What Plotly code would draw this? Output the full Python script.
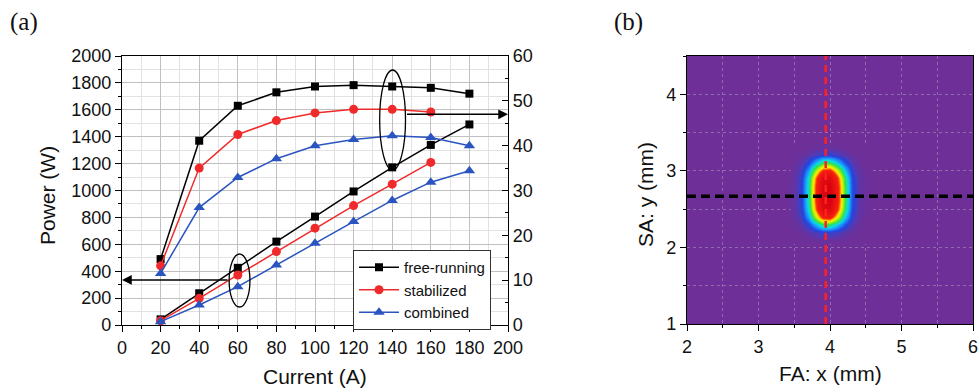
import plotly.graph_objects as go

# ---------------- data: panel (a) ----------------
current = [20, 40, 60, 80, 100, 120, 140, 160, 180]
current_stab = [20, 40, 60, 80, 100, 120, 140, 160]
power_free = [42, 236, 425, 620, 806, 993, 1172, 1339, 1491]
power_stab = [32, 198, 372, 546, 720, 888, 1047, 1209]
power_comb = [25, 149, 285, 447, 608, 769, 926, 1062, 1147]
eff_free = [14.7, 41.1, 48.9, 51.9, 53.2, 53.5, 53.2, 52.9, 51.6]
eff_stab = [13.2, 35.0, 42.5, 45.6, 47.3, 48.1, 48.1, 47.5]
eff_comb = [11.5, 26.2, 32.9, 37.1, 40.0, 41.4, 42.2, 41.8, 40.0]
series_names = ["free-running", "stabilized", "combined"]

# ---------------- data: panel (b) beam profile (estimated relative intensities) ----------------
fa_x = [3.5, 3.6, 3.7, 3.8, 3.9, 4.0, 4.1, 4.2, 4.3, 4.4, 4.5]
sa_y = [2.1, 2.2, 2.3, 2.4, 2.5, 2.6, 2.7, 2.8, 2.9, 3.0, 3.1, 3.2, 3.3]
intensity = [
    [0, 0, 0.001, 0.003, 0.005, 0.005, 0.003, 0.001, 0, 0, 0],
    [0.001, 0.004, 0.014, 0.035, 0.056, 0.058, 0.040, 0.018, 0.005, 0.001, 0],
    [0.003, 0.019, 0.071, 0.174, 0.278, 0.290, 0.198, 0.088, 0.026, 0.005, 0.001],
    [0.007, 0.042, 0.156, 0.383, 0.611, 0.638, 0.435, 0.193, 0.056, 0.011, 0.001],
    [0.010, 0.058, 0.218, 0.534, 0.852, 0.889, 0.606, 0.270, 0.078, 0.015, 0.002],
    [0.011, 0.063, 0.236, 0.577, 0.921, 0.961, 0.656, 0.292, 0.085, 0.016, 0.002],
    [0.011, 0.063, 0.237, 0.580, 0.926, 0.966, 0.659, 0.293, 0.085, 0.016, 0.002],
    [0.011, 0.063, 0.236, 0.577, 0.921, 0.961, 0.656, 0.292, 0.085, 0.016, 0.002],
    [0.010, 0.058, 0.218, 0.534, 0.852, 0.889, 0.606, 0.270, 0.078, 0.015, 0.002],
    [0.007, 0.042, 0.156, 0.383, 0.611, 0.638, 0.435, 0.193, 0.056, 0.011, 0.001],
    [0.003, 0.019, 0.071, 0.174, 0.278, 0.290, 0.198, 0.088, 0.026, 0.005, 0.001],
    [0.001, 0.004, 0.014, 0.035, 0.056, 0.058, 0.040, 0.018, 0.005, 0.001, 0],
    [0, 0, 0.001, 0.003, 0.005, 0.005, 0.003, 0.001, 0, 0, 0],
]
cross_x = 3.94
cross_y = 2.67

BLACK = "#000000"
RED = "#f02a2a"
BLUE = "#2a55c0"
PURPLE = "#6f2f98"
FONT = "Liberation Sans, Arial, sans-serif"
SERIF = "Liberation Serif, Times New Roman, serif"

W, H = 979, 391


def fx(p):
    return p / W


def fy(p):
    return 1 - p / H


fig = go.Figure()

styles = [
    (BLACK, "square", 8),
    (RED, "circle", 9),
    (BLUE, "triangle-up", 10),
]
powers = [(current, power_free), (current_stab, power_stab), (current, power_comb)]
effs = [(current, eff_free), (current_stab, eff_stab), (current, eff_comb)]

for (c, sym, sz), (xs, ys), name in zip(styles, powers, series_names):
    fig.add_trace(go.Scatter(x=xs, y=ys, name=name, mode="lines+markers",
                             line=dict(color=c, width=1.5),
                             marker=dict(symbol=sym, size=sz, color=c),
                             xaxis="x", yaxis="y"))
for (c, sym, sz), (xs, ys), name in zip(styles, effs, series_names):
    fig.add_trace(go.Scatter(x=xs, y=ys, name=name, mode="lines+markers",
                             showlegend=False,
                             line=dict(color=c, width=1.5),
                             marker=dict(symbol=sym, size=sz, color=c),
                             xaxis="x", yaxis="y2"))

colorscale = [
    [0.0, PURPLE],
    [0.03, "#4f3cb8"],
    [0.07, "#2243e0"],
    [0.13, "#1e8cf8"],
    [0.20, "#08dcec"],
    [0.28, "#30e048"],
    [0.38, "#b8f010"],
    [0.46, "#fff000"],
    [0.52, "#ff7a00"],
    [0.58, "#f82010"],
    [1.0, "#d40010"],
]
fig.add_trace(go.Heatmap(x=fa_x, y=sa_y, z=intensity, zmin=0, zmax=1,
                         colorscale=colorscale, zsmooth="best", showscale=False,
                         xaxis="x2", yaxis="y3", hoverinfo="skip"))

Y_DOM = [fy(325), fy(56)]
tickfont = dict(family=FONT, size=18, color="#111")
GRID_B = "rgba(215,215,215,0.35)"

fig.update_layout(
    width=W, height=H,
    margin=dict(l=0, r=0, t=0, b=0, autoexpand=False),
    paper_bgcolor="white", plot_bgcolor="white",
    font=dict(family=FONT, color="#111"),
    showlegend=True,
    legend=dict(x=fx(353), y=fy(250), xanchor="left", yanchor="top",
                bordercolor="#333", borderwidth=1, bgcolor="white",
                font=dict(family=FONT, size=15, color="#111"),
                tracegroupgap=0, itemwidth=40),
    xaxis=dict(domain=[fx(122), fx(508)], range=[0, 200], anchor="y", automargin=False,
               tickmode="linear", tick0=0, dtick=20, ticks="outside", ticklen=6,
               tickcolor="black", tickfont=tickfont,
               showline=True, linecolor="black", linewidth=1.2, mirror=True,
               showgrid=True, gridcolor="#c0c0c0", gridwidth=1, zeroline=False,
               minor=dict(dtick=10, ticks="outside", ticklen=3, tickcolor="black",
                          showgrid=True, gridcolor="#e2e2e2")),
    yaxis=dict(domain=Y_DOM, range=[0, 2000], anchor="x", automargin=False,
               tickmode="linear", tick0=0, dtick=200, ticks="outside", ticklen=6,
               tickcolor="black", tickfont=tickfont,
               showline=True, linecolor="black", linewidth=1.2, mirror=True,
               showgrid=True, gridcolor="#c0c0c0", gridwidth=1, zeroline=False,
               minor=dict(dtick=100, ticks="outside", ticklen=3, tickcolor="black",
                          showgrid=True, gridcolor="#e2e2e2")),
    yaxis2=dict(domain=Y_DOM, range=[0, 60], anchor="x", overlaying="y", side="right",
                automargin=False,
                tickmode="linear", tick0=0, dtick=10, ticks="inside", ticklen=6,
                tickcolor="black", tickfont=tickfont,
                showline=True, linecolor="black", linewidth=1.2,
                showgrid=False, zeroline=False,
                minor=dict(dtick=5, ticks="inside", ticklen=3, tickcolor="black")),
    xaxis2=dict(domain=[fx(687), fx(973)], range=[2, 6], anchor="y3", automargin=False,
                tickmode="linear", tick0=2, dtick=1, ticks="outside", ticklen=6,
                tickcolor="black", tickfont=tickfont,
                showline=True, linecolor="black", linewidth=1.2, mirror=True,
                showgrid=True, gridcolor=GRID_B, griddash="dot",
                zeroline=False,
                minor=dict(dtick=0.5, ticks="outside", ticklen=3, tickcolor="black",
                           showgrid=True, gridcolor=GRID_B, griddash="dot")),
    yaxis3=dict(domain=[fy(324), fy(56)], range=[1, 4.5], anchor="x2",
                automargin=False,
                tickmode="linear", tick0=1, dtick=1, ticks="outside", ticklen=6,
                tickcolor="black", tickfont=tickfont,
                showline=True, linecolor="black", linewidth=1.2, mirror=True,
                showgrid=True, gridcolor=GRID_B, griddash="dot",
                zeroline=False,
                minor=dict(dtick=0.5, ticks="outside", ticklen=3, tickcolor="black",
                           showgrid=True, gridcolor=GRID_B, griddash="dot")),
)

shapes = [
    # purple background of the beam image (below gridlines)
    dict(type="rect", xref="x2", yref="y3", x0=2, x1=6, y0=1, y1=4.5,
         fillcolor=PURPLE, line=dict(width=0), layer="below"),
    # ellipses in panel (a)
    dict(type="circle", xref="x", yref="y", x0=133.5, x1=146.9, y0=1152, y1=1896,
         line=dict(color="black", width=1.3)),
    dict(type="circle", xref="x", yref="y", x0=55.5, x1=66.3, y0=134, y1=528,
         line=dict(color="black", width=1.3)),
    # cross-hair lines in panel (b)
    dict(type="line", xref="x2", yref="y3", x0=cross_x, x1=cross_x, y0=1, y1=4.5,
         line=dict(color="#ff2020", width=2.5, dash="7px,5px")),
    dict(type="line", xref="x2", yref="y3", x0=2, x1=6, y0=cross_y, y1=cross_y,
         line=dict(color="black", width=3.5, dash="9px,5px")),
]
fig.update_layout(shapes=shapes)


def label(text, px, py, size=21, angle=0, family=FONT):
    return dict(text=text, x=fx(px), y=fy(py), xref="paper", yref="paper",
                xanchor="center", yanchor="middle", textangle=angle,
                showarrow=False, font=dict(family=family, size=size, color="#111"))


annotations = [
    dict(x=200, y=1566, ax=146.9, ay=1566, xref="x", yref="y", axref="x", ayref="y",
         showarrow=True, arrowhead=2, arrowsize=1.3, arrowwidth=1.5, arrowcolor="black", text=""),
    dict(x=0, y=335, ax=55.5, ay=335, xref="x", yref="y", axref="x", ayref="y",
         showarrow=True, arrowhead=2, arrowsize=1.3, arrowwidth=1.5, arrowcolor="black", text=""),
    label("Power (W)", 47, 196, angle=-90),
    label("Current (A)", 315, 376),
    label("SA: y (mm)", 645, 195, angle=-90),
    label("FA: x (mm)", 830, 373),
    label("(a)", 24, 22, size=25, family=SERIF),
    label("(b)", 628, 22, size=25, family=SERIF),
]
fig.update_layout(annotations=annotations)

fig.write_html(
    "out.html",
    config=dict(displayModeBar=False),
    post_script="document.body.style.margin='0';document.body.style.overflow='hidden';",
)
